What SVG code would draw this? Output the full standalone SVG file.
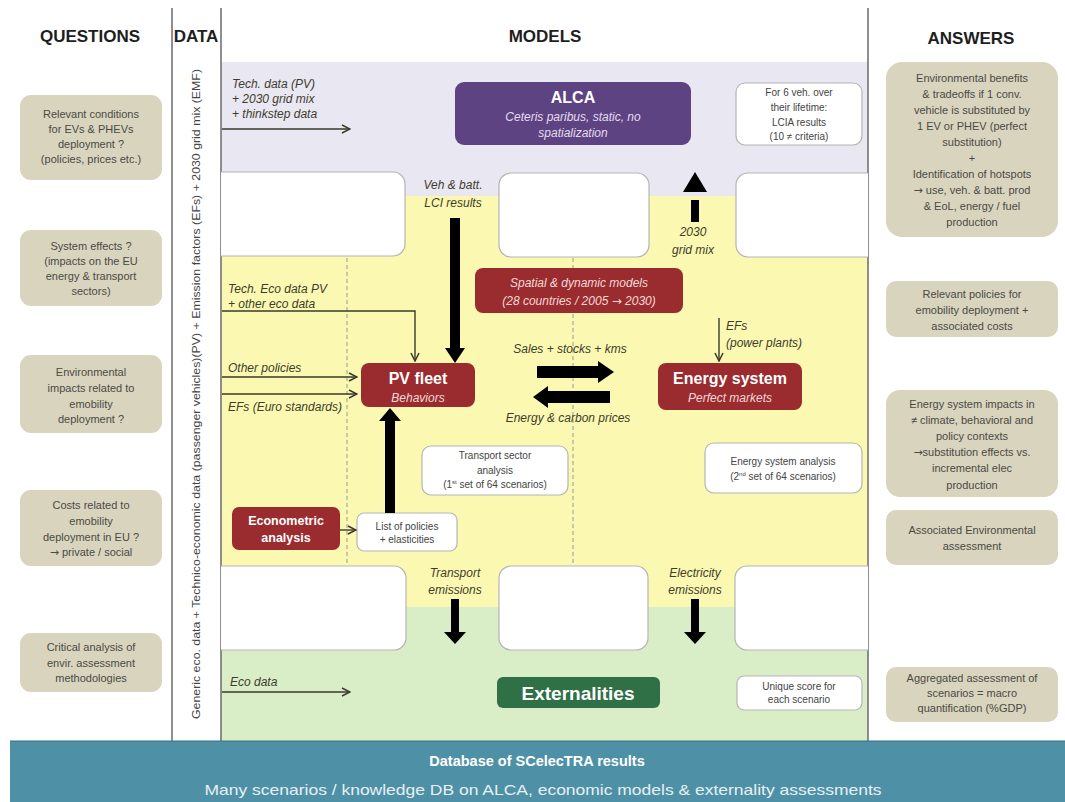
<svg xmlns="http://www.w3.org/2000/svg" width="1065" height="802" viewBox="0 0 1065 802">
<defs>
<style>
text{font-family:"Liberation Sans",Arial,sans-serif}
.ar{font-family:"DejaVu Sans",sans-serif}
.hdr{font-size:17px;font-weight:bold;fill:#1e1e1e;text-anchor:middle}
.q{fill:#d9d4be}
.qt{font-size:11px;fill:#4a4a44;text-anchor:middle}
.lbl{font-size:12px;font-style:italic;fill:#3e3c2c}
.lblc{font-size:12px;font-style:italic;fill:#3e3c2c;text-anchor:middle}
.wb{fill:#ffffff;stroke:#b5b5b5;stroke-width:1.2}
.wt{font-size:10px;fill:#444;text-anchor:middle}
.red{fill:#9a2b2e}
.tb{font-weight:bold;fill:#ffffff;text-anchor:middle}
.ti{font-style:italic;text-anchor:middle}
.thin{fill:none;stroke:#3a3a2a;stroke-width:1.4;marker-end:url(#open)}
.thick{fill:#000}
.vl{stroke:#6a6a6a;stroke-width:1.5}
.dash{stroke:#b0b0a0;stroke-width:1.3;stroke-dasharray:4 3}
</style>
<marker id="open" viewBox="0 0 10 10" refX="9" refY="5" markerWidth="10" markerHeight="10" markerUnits="userSpaceOnUse" orient="auto">
<path d="M1,1 L9,5 L1,9" fill="none" stroke="#3a3a2a" stroke-width="1.5"/>
</marker>
<clipPath id="mclip"><rect x="221" y="0" width="647" height="802"/></clipPath>
</defs>
<rect width="1065" height="802" fill="#ffffff"/>

<g id="bands">
<rect x="221" y="62" width="647" height="134" fill="#e9e7f1"/>
<rect x="221" y="196" width="647" height="412" fill="#fbf9b1"/>
<rect x="221" y="607" width="647" height="134" fill="#d9edc6"/>
</g>

<g id="frame">
<line class="vl" x1="172" y1="8" x2="172" y2="741"/>
<line class="vl" x1="221" y1="8" x2="221" y2="741"/>
<line class="vl" x1="868" y1="8" x2="868" y2="741"/>
<line class="dash" x1="347" y1="258" x2="347" y2="565"/>
<line class="dash" x1="573" y1="258" x2="573" y2="565"/>
</g>

<g id="headers">
<text class="hdr" x="90" y="42">QUESTIONS</text>
<text class="hdr" x="196" y="42">DATA</text>
<text class="hdr" x="545" y="42">MODELS</text>
<text class="hdr" x="971" y="44">ANSWERS</text>
</g>

<g id="data-column">
<text transform="translate(200,394) rotate(-90)" text-anchor="middle" font-size="11" fill="#444" textLength="650" lengthAdjust="spacingAndGlyphs">Generic eco. data + Technico-economic data (passenger vehicles)(PV) + Emission factors (EFs) + 2030 grid mix (EMF)</text>
</g>

<g id="spacers" clip-path="url(#mclip)">
<rect class="wb" x="205" y="172" width="200" height="84" rx="12"/>
<rect class="wb" x="499" y="173" width="150" height="84" rx="12"/>
<rect class="wb" x="736" y="173" width="150" height="84" rx="12"/>
<rect class="wb" x="205" y="566" width="201" height="84" rx="12"/>
<rect class="wb" x="499" y="566" width="149" height="84" rx="12"/>
<rect class="wb" x="735" y="566" width="150" height="84" rx="12"/>
</g>

<g id="q1"><rect class="q" x="20" y="95" width="142" height="85" rx="11"/>
<text class="qt" x="91" y="118">Relevant conditions</text><text class="qt" x="91" y="133">for EVs &amp; PHEVs</text><text class="qt" x="91" y="148">deployment ?</text><text class="qt" x="91" y="163">(policies, prices etc.)</text></g>
<g id="q2"><rect class="q" x="20" y="230" width="142" height="76" rx="11"/>
<text class="qt" x="91" y="250">System effects ?</text><text class="qt" x="91" y="265">(impacts on the EU</text><text class="qt" x="91" y="280">energy &amp; transport</text><text class="qt" x="91" y="295">sectors)</text></g>
<g id="q3"><rect class="q" x="20" y="355" width="142" height="78" rx="11"/>
<text class="qt" x="91" y="376">Environmental</text><text class="qt" x="91" y="392">impacts related to</text><text class="qt" x="91" y="408">emobility</text><text class="qt" x="91" y="423">deployment ?</text></g>
<g id="q4"><rect class="q" x="20" y="490" width="142" height="76" rx="11"/>
<text class="qt" x="91" y="509">Costs related to</text><text class="qt" x="91" y="525">emobility</text><text class="qt" x="91" y="541">deployment in EU ?</text><text class="qt" x="91" y="556"><tspan class="ar">→</tspan> private / social</text></g>
<g id="q5"><rect class="q" x="20" y="633" width="142" height="59" rx="11"/>
<text class="qt" x="91" y="651">Critical analysis of</text><text class="qt" x="91" y="667">envir. assessment</text><text class="qt" x="91" y="682">methodologies</text></g>

<g id="a1"><rect class="q" x="886" y="62" width="172" height="175" rx="16"/>
<text class="qt" x="972" y="82">Environmental benefits</text><text class="qt" x="972" y="98">&amp; tradeoffs if 1 conv.</text><text class="qt" x="972" y="114">vehicle is substituted by</text><text class="qt" x="972" y="130">1 EV or PHEV (perfect</text><text class="qt" x="972" y="146">substitution)</text><text class="qt" x="972" y="162">+</text><text class="qt" x="972" y="178">Identification of hotspots</text><text class="qt" x="972" y="194"><tspan class="ar">→</tspan> use, veh. &amp; batt. prod</text><text class="qt" x="972" y="210">&amp; EoL, energy / fuel</text><text class="qt" x="972" y="226">production</text></g>
<g id="a2"><rect class="q" x="886" y="281" width="172" height="56" rx="10"/>
<text class="qt" x="972" y="298">Relevant policies for</text><text class="qt" x="972" y="314">emobility deployment +</text><text class="qt" x="972" y="330">associated costs</text></g>
<g id="a3"><rect class="q" x="886" y="390" width="172" height="107" rx="14"/>
<text class="qt" x="972" y="408">Energy system impacts in</text><text class="qt" x="972" y="424">≠ climate, behavioral and</text><text class="qt" x="972" y="440">policy contexts</text><text class="qt" x="972" y="456"><tspan class="ar">→</tspan>substitution effects vs.</text><text class="qt" x="972" y="472">incremental elec</text><text class="qt" x="972" y="489">production</text></g>
<g id="a4"><rect class="q" x="886" y="510" width="172" height="55" rx="10"/>
<text class="qt" x="972" y="534">Associated Environmental</text><text class="qt" x="972" y="550">assessment</text></g>
<g id="a5"><rect class="q" x="886" y="667" width="172" height="55" rx="10"/>
<text class="qt" x="972" y="682">Aggregated assessment of</text><text class="qt" x="972" y="697">scenarios = macro</text><text class="qt" x="972" y="712">quantification (%GDP)</text></g>

<g id="alca"><rect x="455" y="82" width="236" height="63" rx="9" fill="#5e4383"/>
<text class="tb" x="573" y="103" font-size="16">ALCA</text>
<text class="ti" x="573" y="121" font-size="12" fill="#e4dcef">Ceteris paribus, static, no</text>
<text class="ti" x="573" y="137" font-size="12" fill="#e4dcef">spatialization</text></g>

<g id="lcia-results"><rect class="wb" x="736" y="83" width="126" height="62" rx="9"/>
<text class="wt" x="799" y="96">For 6 veh. over</text><text class="wt" x="799" y="111">their lifetime:</text><text class="wt" x="799" y="126">LCIA results</text><text class="wt" x="799" y="140">(10 ≠ criteria)</text></g>

<g id="spatial"><rect class="red" x="475" y="268" width="208" height="45" rx="8"/>
<text class="ti" x="579" y="287" font-size="12" fill="#f3d9d9">Spatial &amp; dynamic models</text>
<text class="ti" x="579" y="305" font-size="12" fill="#f3d9d9">(28 countries / 2005 <tspan class="ar" font-style="normal">→</tspan> 2030)</text></g>

<g id="pv-fleet"><rect class="red" x="361" y="363" width="114" height="44" rx="8"/>
<text class="tb" x="418" y="384" font-size="16">PV fleet</text>
<text class="ti" x="418" y="402" font-size="12" fill="#f3d9d9">Behaviors</text></g>

<g id="energy-system"><rect class="red" x="658" y="363" width="144" height="47" rx="8"/>
<text class="tb" x="730" y="384" font-size="16">Energy system</text>
<text class="ti" x="730" y="402" font-size="12" fill="#f3d9d9">Perfect markets</text></g>

<g id="transport-analysis"><rect class="wb" x="422" y="446" width="146" height="49" rx="9"/>
<text class="wt" x="495" y="459">Transport sector</text><text class="wt" x="495" y="474">analysis</text><text class="wt" x="495" y="488">(1<tspan font-size="6" dy="-4">st</tspan><tspan dy="4"> set of 64 scenarios)</tspan></text></g>

<g id="energy-analysis"><rect class="wb" x="705" y="443" width="157" height="50" rx="9"/>
<text class="wt" x="783" y="465">Energy system analysis</text><text class="wt" x="783" y="480">(2<tspan font-size="6" dy="-4">nd</tspan><tspan dy="4"> set of 64 scenarios)</tspan></text></g>

<g id="econometric"><rect class="red" x="232" y="507" width="108" height="43" rx="7"/>
<text class="tb" x="286" y="525" font-size="12.5">Econometric</text>
<text class="tb" x="286" y="542" font-size="12.5">analysis</text></g>

<g id="policies-list"><rect class="wb" x="357" y="513" width="100" height="38" rx="7"/>
<text class="wt" x="407" y="530">List of policies</text><text class="wt" x="407" y="543">+ elasticities</text></g>

<g id="externalities"><rect x="497" y="677" width="163" height="31" rx="6" fill="#2f7046"/>
<text class="tb" x="578" y="700" font-size="19">Externalities</text></g>

<g id="unique-score"><rect class="wb" x="737" y="676" width="125" height="34" rx="7"/>
<text class="wt" x="799" y="690">Unique score for</text><text class="wt" x="799" y="703">each scenario</text></g>

<g id="connectors">
<path class="thin" d="M222,129 H350"/>
<path class="thin" d="M222,311 H415 V361"/>
<path class="thin" d="M222,377 H357"/>
<path class="thin" d="M222,394 H357"/>
<path class="thin" d="M340,530 H356"/>
<path class="thin" d="M719,318 V361"/>
<path class="thin" d="M222,692 H350"/>
<rect class="thick" x="450" y="218" width="10" height="131"/><polygon class="thick" points="445,348 465,348 455,363"/>
<rect class="thick" x="691" y="200" width="8" height="22"/><polygon class="thick" points="683,192 707,192 695,172"/>
<rect class="thick" x="537" y="366" width="62" height="12"/><polygon class="thick" points="598,361 598,383 614,372"/>
<rect class="thick" x="547" y="391" width="63" height="12"/><polygon class="thick" points="548,386 548,408 533,397"/>
<rect class="thick" x="385" y="420" width="10" height="93"/><polygon class="thick" points="379,421 401,421 390,408"/>
<rect class="thick" x="451" y="599" width="8" height="34"/><polygon class="thick" points="444,632 466,632 455,644"/>
<rect class="thick" x="691" y="599" width="8" height="34"/><polygon class="thick" points="684,632 706,632 695,644"/>
<text class="lbl" x="232" y="88">Tech. data (PV)</text>
<text class="lbl" x="232" y="103">+ 2030 grid mix</text>
<text class="lbl" x="232" y="118">+ thinkstep data</text>
<text class="lblc" x="453" y="189">Veh &amp; batt.</text>
<text class="lblc" x="453" y="207">LCI results</text>
<text class="lblc" x="693" y="236">2030</text>
<text class="lblc" x="693" y="254">grid mix</text>
<text class="lbl" x="228" y="293">Tech. Eco data  PV</text>
<text class="lbl" x="228" y="308">+ other eco data</text>
<text class="lbl" x="228" y="372">Other policies</text>
<text class="lbl" x="228" y="411">EFs (Euro standards)</text>
<text class="lblc" x="570" y="353">Sales + stocks + kms</text>
<text class="lblc" x="568" y="422">Energy &amp; carbon prices</text>
<text class="lbl" x="726" y="330" font-size="10.5">EFs</text>
<text class="lbl" x="726" y="347" font-size="10.5">(power plants)</text>
<text class="lblc" x="455" y="577">Transport</text>
<text class="lblc" x="455" y="594">emissions</text>
<text class="lblc" x="695" y="577">Electricity</text>
<text class="lblc" x="695" y="594">emissions</text>
<text class="lbl" x="230" y="686">Eco data</text>
</g>

<g id="database">
<rect x="10" y="741" width="1055" height="61" fill="#4e91a7"/>
<line x1="10" y1="741" x2="1065" y2="741" stroke="#3f6f80" stroke-width="1"/>
<text class="tb" x="537" y="766" font-size="14.5">Database of SCelecTRA results</text>
<text x="543" y="795" font-size="15" fill="#e8eff2" text-anchor="middle" textLength="677" lengthAdjust="spacingAndGlyphs">Many scenarios / knowledge DB on ALCA, economic models &amp; externality assessments</text>
</g>
</svg>
